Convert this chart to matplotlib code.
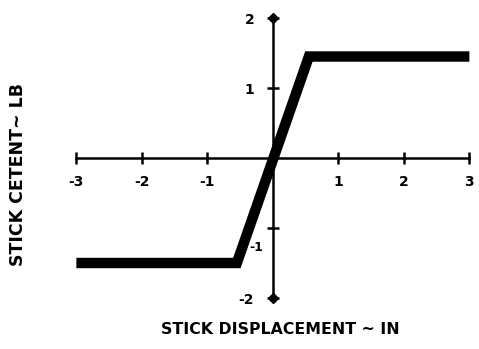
import numpy as np
import matplotlib.pyplot as plt
from matplotlib.transforms import ScaledTranslation

# detent force vs stick displacement
disp = [-3.0, -0.55, 0.55, 3.0]
force = [-1.5, -1.5, 1.45, 1.45]

xticks = [-3, -2, -1, 1, 2, 3]
xlabels = ['-3', '-2', '-1', '1', '2', '3']
yticks = [-2, -1, 1, 2]
ylabels = ['-2', '-1', '1', '2']

fig = plt.figure(figsize=(4.79, 3.49), dpi=100)
ax = fig.add_axes([60 / 479, 0.106, (479.3 - 60.1) / 479, 0.8825])
ax.set_xlim(-3.25, 3.15)
ax.set_ylim(-2.2, 2.2)

ax.plot(disp, force, color='black', lw=7.5, solid_joinstyle='miter',
        solid_capstyle='butt', zorder=3)

for s in ['top', 'right']:
    ax.spines[s].set_visible(False)
ax.spines['left'].set_position(('data', 0))
ax.spines['bottom'].set_position(('data', 0))
ax.spines['left'].set_bounds(-2, 2)
ax.spines['bottom'].set_bounds(-3, 3)
for s in ['left', 'bottom']:
    ax.spines[s].set_linewidth(1.8)

ax.set_xticks(xticks)
ax.set_xticklabels(xlabels)
ax.set_yticks(yticks)
ax.set_yticklabels(ylabels)
ax.tick_params(direction='inout', length=9, width=1.8, labelsize=10, pad=8)
ax.tick_params(axis='y', pad=9)
for lab in ax.get_xticklabels() + ax.get_yticklabels():
    lab.set_fontweight('bold')

# axis end markers
ax.plot([0, 0], [yticks[0], yticks[-1]], ls='none', marker='D', ms=5, color='black')

# -1 label moved in and down so the line does not cover it
lab = ax.get_yticklabels()[1]
lab.set_fontsize(9)
lab.set_transform(lab.get_transform() + ScaledTranslation(9 / 100, -18 / 100, fig.dpi_scale_trans))

fig.text(18 / 479, 1 - 175 / 349, 'STICK CETENT~ LB', rotation=90,
         ha='center', va='center', fontsize=12.5, fontweight='bold')
fig.text(280 / 479, 1 - 330 / 349, 'STICK DISPLACEMENT ~ IN',
         ha='center', va='center', fontsize=11.3, fontweight='bold')

fig.savefig('out.png', dpi=100)
